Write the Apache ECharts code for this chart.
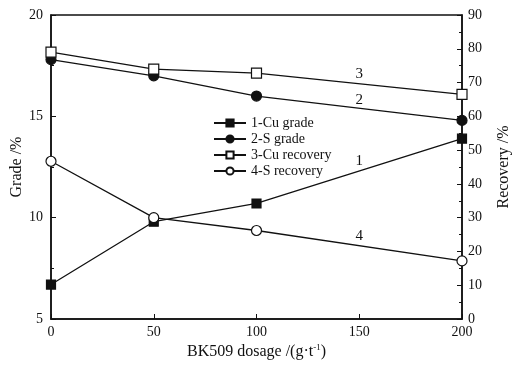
<!DOCTYPE html>
<meta charset="utf-8">
<style>
  html, body { margin: 0; padding: 0; background: #fff; }
  #container { width: 519px; height: 366px; }
</style>
<body>
<div id="container"></div>
<script src="https://cdn.jsdelivr.net/npm/echarts@6/dist/echarts.min.js"></script>
<script>

var dosage = [0, 50, 100, 200];
var cuGrade = [6.7, 9.8, 10.7, 13.9];
var sGrade = [17.8, 17.0, 16.0, 14.8];
var cuRecovery = [79.0, 74.0, 72.8, 66.5];
var sRecovery = [46.7, 30.0, 26.2, 17.2];
var names = ['1-Cu grade', '2-S grade', '3-Cu recovery', '4-S recovery'];
var lineTags = ['1', '2', '3', '4'];

var serif = 'Liberation Serif';

function pairs(ys) {
  return dosage.map(function (x, i) { return [x, ys[i]]; });
}

// number tag placed above each line between 100 and 200
function tag(ys, text, lift) {
  return {
    symbol: 'rect',
    symbolSize: 0,
    data: [{
      coord: [150, (ys[2] + ys[3]) / 2],
      label: {
        show: true, formatter: text, offset: [0, -lift],
        color: '#111', fontFamily: serif, fontSize: 15
      }
    }]
  };
}

function makeSeries(name, ys, yIdx, symbol, filled, text, lift) {
  return {
    name: name,
    type: 'line',
    yAxisIndex: yIdx,
    data: pairs(ys),
    symbol: symbol,
    symbolSize: filled ? (symbol === 'rect' ? 9 : 10) : 10,
    showAllSymbol: true,
    lineStyle: { color: '#111', width: 1.3 },
    itemStyle: { color: filled ? '#111' : '#fff', borderColor: '#111', borderWidth: 1.2 },
    emphasis: { disabled: true },
    markPoint: tag(ys, text, lift),
    z: filled ? 3 : 4
  };
}

var axisLine = { lineStyle: { color: '#111', width: 1.5 } };
var tickLab = { color: '#111', fontFamily: serif, fontSize: 14 };

var myChart = echarts.init(document.getElementById('container'), null, { renderer: 'canvas' });

var option = {
  backgroundColor: '#fff',
  animation: false,
  grid: {
    left: 51, right: 57, top: 15, bottom: 47,
    outerBoundsMode: 'none',
    show: true, borderColor: '#111', borderWidth: 1.5, backgroundColor: 'transparent'
  },
  legend: {
    orient: 'vertical',
    left: 208, top: 111,
    itemWidth: 32, itemHeight: 9, itemGap: 2,
    textStyle: { color: '#111', fontFamily: serif, fontSize: 14 },
    data: names
  },
  xAxis: {
    type: 'value',
    min: 0, max: 200, interval: 50,
    name: 'BK509 dosage /(g·t{sup|-1})',
    nameLocation: 'middle', nameGap: 24, nameMoveOverlap: false,
    nameTextStyle: {
      color: '#111', fontFamily: serif, fontSize: 16,
      rich: { sup: { fontFamily: serif, fontSize: 9, verticalAlign: 'top', padding: [0, 0, 8, 0] } }
    },
    axisLine: axisLine,
    axisTick: { inside: true, length: 5, lineStyle: { color: '#111' } },
    axisLabel: Object.assign({ margin: 6 }, tickLab),
    splitLine: { show: false }
  },
  yAxis: [{
    type: 'value',
    min: 5, max: 20, interval: 5,
    name: 'Grade /%',
    nameLocation: 'middle', nameGap: 26, nameRotate: 90, nameMoveOverlap: false,
    nameTextStyle: { color: '#111', fontFamily: serif, fontSize: 16 },
    axisLine: axisLine,
    axisTick: { inside: true, length: 5, lineStyle: { color: '#111' } },
    minorTick: { show: true, splitNumber: 2, length: 3, lineStyle: { color: '#111' } },
    axisLabel: Object.assign({ margin: 8 }, tickLab),
    splitLine: { show: false }
  }, {
    type: 'value',
    position: 'right',
    min: 0, max: 90, interval: 10,
    name: 'Recovery /%',
    nameLocation: 'middle', nameGap: 34, nameRotate: 90, nameMoveOverlap: false,
    nameTextStyle: { color: '#111', fontFamily: serif, fontSize: 16 },
    axisLine: axisLine,
    axisTick: { inside: true, length: 5, lineStyle: { color: '#111' } },
    minorTick: { show: true, splitNumber: 2, length: 3, lineStyle: { color: '#111' } },
    axisLabel: Object.assign({ margin: 6 }, tickLab),
    splitLine: { show: false }
  }],
  series: [
    makeSeries(names[0], cuGrade, 0, 'rect', true, lineTags[0], 10),
    makeSeries(names[1], sGrade, 0, 'circle', true, lineTags[1], 8),
    makeSeries(names[2], cuRecovery, 1, 'rect', false, lineTags[2], 10),
    makeSeries(names[3], sRecovery, 1, 'circle', false, lineTags[3], 10)
  ]
};

myChart.setOption(option);
window.addEventListener('resize', myChart.resize);
</script>
</body>
